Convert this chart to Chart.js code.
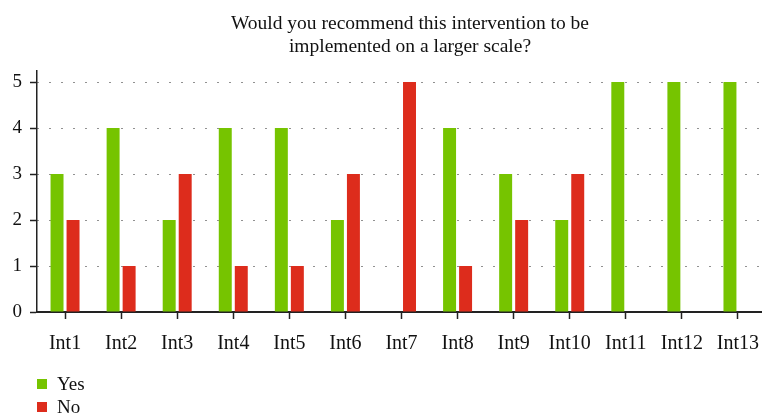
<!DOCTYPE html>
<html>
<head>
<meta charset="utf-8">
<script src="https://cdn.jsdelivr.net/npm/chart.js@4/dist/chart.umd.min.js"></script>
<style>
  html, body { margin: 0; padding: 0; background: #fff; overflow: hidden; }
  #wrap { position: relative; width: 762px; height: 415px; overflow: hidden; }
  #c { position: absolute; left: 0; top: 0; }
  #title { position: absolute; left: 210px; width: 400px; top: 11px; text-align: center; font-family: "Liberation Serif", serif; font-size: 19.5px; line-height: 23px; color: #111; }
  #legend { position: absolute; left: 37px; top: 372px; font-family: "Liberation Serif", serif; font-size: 19px; color: #111; }
  #legend div { height: 23px; line-height: 23px; display: flex; align-items: center; }
  #legend span.box { display: inline-block; width: 10px; height: 10px; margin-right: 10px; }
</style>
</head>
<body>
<div id="wrap">
  <canvas id="c" width="766" height="415"></canvas>
  <div id="title"></div>
  <div id="legend"></div>
</div>
<script>
const titleLines = ["Would you recommend this intervention to be", "implemented on a larger scale?"];
const categories = ["Int1","Int2","Int3","Int4","Int5","Int6","Int7","Int8","Int9","Int10","Int11","Int12","Int13"];
const yesValues = [3,4,2,4,4,2,0,4,3,2,5,5,5];
const noValues  = [2,1,3,1,1,3,5,1,2,3,0,0,0];
const seriesNames = ["Yes","No"];
const seriesColors = ["#76c400","#dd2c1c"];
const yTicks = [0,1,2,3,4,5];

const serif = "'Liberation Serif', 'DejaVu Serif', serif";

const chart = new Chart(document.getElementById('c'), {
  type: 'bar',
  data: {
    labels: categories,
    datasets: [
      { label: seriesNames[0], data: yesValues, backgroundColor: seriesColors[0], barPercentage: 0.81, categoryPercentage: 0.571 },
      { label: seriesNames[1], data: noValues, backgroundColor: seriesColors[1], barPercentage: 0.81, categoryPercentage: 0.571 }
    ]
  },
  options: {
    responsive: false,
    animation: false,
    layout: { autoPadding: false, padding: { left: 0, right: 0, top: 71, bottom: 63 } },
    plugins: {
      legend: { display: false },
      tooltip: { enabled: false },
      title: { display: false }
    },
    scales: {
      x: {
        afterFit: s => { s.height = 40; s.paddingLeft = 0; s.paddingRight = 0; },
        grid: { display: true, drawOnChartArea: false, drawTicks: true, offset: false, tickLength: 7, tickColor: '#222', tickWidth: 1.5 },
        border: { display: true, color: '#222', width: 2 },
        ticks: { color: '#111', padding: 13, font: { family: serif, size: 20 }, maxRotation: 0, autoSkip: false }
      },
      y: {
        min: 0, max: 5.24,
        afterFit: s => { s.width = 37; s.paddingTop = 0; s.paddingBottom = 0; },
        afterBuildTicks: s => { s.ticks = yTicks.map(v => ({ value: v })); },
        grid: { display: true, drawOnChartArea: true, drawTicks: true, tickLength: 7, color: '#222', lineWidth: 1, tickColor: '#222', tickWidth: 1.5 },
        border: { display: true, color: '#222', width: 1.5, dash: [1, 11], dashOffset: 0 },
        ticks: { color: '#111', padding: 8, font: { family: serif, size: 19 } }
      }
    }
  }
});

const tt = document.getElementById('title');
titleLines.forEach(t => { const d = document.createElement('div'); d.textContent = t; tt.appendChild(d); });

const lg = document.getElementById('legend');
seriesNames.forEach((n, i) => {
  const d = document.createElement('div');
  const b = document.createElement('span');
  b.className = 'box';
  b.style.background = seriesColors[i];
  d.appendChild(b);
  d.appendChild(document.createTextNode(n));
  lg.appendChild(d);
});
</script>
</body>
</html>
